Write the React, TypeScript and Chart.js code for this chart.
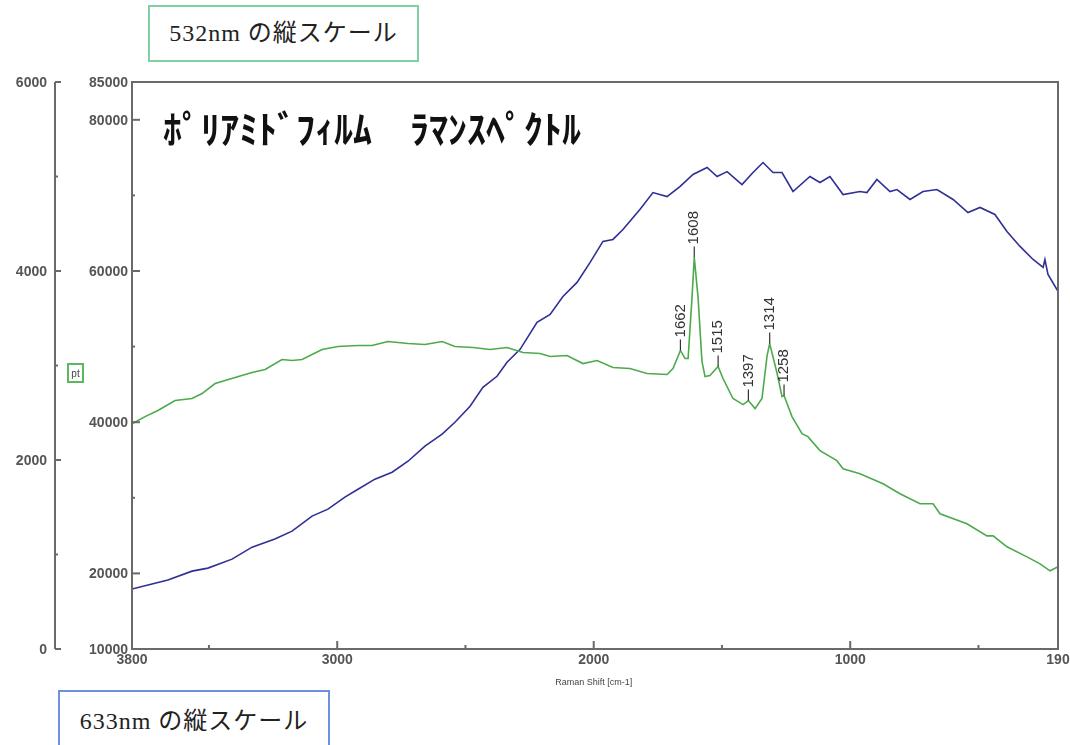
import React, { useEffect, useRef } from "react";
import { Chart, registerables } from "chart.js";

Chart.register(...registerables);

// ---- data (Raman shift in cm-1, intensity in counts) ----
const greenShift = [3800,3749,3699,3632,3566,3527,3476,3398,3332,3281,3215,3176,3137,3059,2997,2919,2864,2802,2724,2658,2591,2541,2471,2404,2338,2276,2209,2170,2104,2042,1987,1925,1859,1792,1714,1691,1662,1644,1632,1617,1608,1593,1578,1566,1547,1515,1496,1457,1418,1397,1371,1344,1324,1314,1285,1266,1258,1227,1188,1165,1118,1052,1028,962,872,806,728,677,650,545,467,443,389,311,260,221,190];
const greenIntensity = [39800,40740,41540,42860,43130,43790,45110,45910,46570,46970,48290,48160,48290,49620,50020,50150,50150,50680,50410,50280,50680,50020,49880,49620,49880,49220,49090,48690,48820,47760,48160,47230,47100,46440,46310,47100,49490,48430,48430,56380,61800,56380,48030,46040,46170,47370,45780,43130,42330,42860,41800,43130,48820,50410,46440,43390,43520,40740,38490,38090,36240,34910,33850,33190,31860,30540,29210,29210,27890,26560,24970,24970,23520,22190,21260,20340,20870];

const blueShift = [3800,3722,3660,3566,3504,3410,3332,3243,3176,3098,3036,2970,2919,2853,2786,2724,2658,2591,2541,2482,2432,2377,2338,2287,2221,2170,2120,2065,2014,1964,1925,1886,1820,1769,1714,1664,1613,1558,1519,1480,1422,1379,1340,1301,1266,1223,1157,1118,1079,1028,962,935,896,845,818,767,716,662,599,541,494,436,389,338,287,248,241,229,190];
const blueIntensity = [634,687,729,824,856,951,1078,1163,1247,1406,1480,1607,1691,1797,1871,1987,2146,2273,2399,2569,2769,2886,3034,3171,3456,3541,3731,3879,4091,4313,4334,4439,4651,4830,4788,4894,5021,5095,5000,5052,4915,5042,5148,5042,5042,4841,5000,4936,5000,4809,4841,4830,4968,4841,4862,4757,4841,4862,4757,4619,4672,4598,4418,4260,4122,4038,4122,3964,3784];

const peakLabels = [1662, 1608, 1515, 1397, 1314, 1258];

const xMajorTicks = [3800, 3000, 2000, 1000, 190];
const xMinorTicks = [3500, 2500, 1500, 500];
const innerMajorTicks = [85000, 80000, 60000, 40000, 20000, 10000];
const innerMinorTicks = [70000, 50000, 30000];
const outerMajorTicks = [6000, 4000, 2000, 0];
const outerMinorTicks = [5000, 3000, 1000];

const chartTitle = "ﾎﾟﾘｱﾐﾄﾞﾌｨﾙﾑ　ﾗﾏﾝｽﾍﾟｸﾄﾙ";
const xAxisTitle = "Raman Shift [cm-1]";
const box532 = "532nm の縦スケール";
const box633 = "633nm の縦スケール";

const decorPlugin = {
  id: "decor",
  afterDraw(chart: any) {
    const { ctx, chartArea: ca, scales } = chart;
    const xs = scales.x;
    const yi = scales.y;
    const yo = scales.yL;
    ctx.save();

    // frame
    ctx.strokeStyle = "#6a6a6a";
    ctx.lineWidth = 2;
    ctx.strokeRect(ca.left, ca.top, ca.right - ca.left, ca.bottom - ca.top);

    const tickFont = "bold 14px 'Liberation Sans', Arial, sans-serif";
    ctx.fillStyle = "#555";
    ctx.font = tickFont;

    // inner y axis
    ctx.textAlign = "right";
    ctx.textBaseline = "middle";
    innerMajorTicks.forEach((v) => {
      const py = yi.getPixelForValue(v);
      ctx.beginPath();
      ctx.moveTo(ca.left, py);
      ctx.lineTo(ca.left + 8, py);
      ctx.stroke();
      ctx.fillText(String(v), ca.left - 4, py + 1);
    });
    innerMinorTicks.forEach((v) => {
      const py = yi.getPixelForValue(v);
      ctx.beginPath();
      ctx.moveTo(ca.left, py);
      ctx.lineTo(ca.left + 3, py);
      ctx.stroke();
    });

    // outer y axis
    const ox = 55;
    ctx.beginPath();
    ctx.moveTo(ox, yo.getPixelForValue(6000));
    ctx.lineTo(ox, yo.getPixelForValue(0));
    ctx.stroke();
    outerMajorTicks.forEach((v) => {
      const py = yo.getPixelForValue(v);
      ctx.beginPath();
      ctx.moveTo(ox, py);
      ctx.lineTo(ox + 6, py);
      ctx.stroke();
      ctx.fillText(String(v), ox - 8, py + 1);
    });
    outerMinorTicks.forEach((v) => {
      const py = yo.getPixelForValue(v);
      ctx.beginPath();
      ctx.moveTo(ox, py);
      ctx.lineTo(ox + 3, py);
      ctx.stroke();
    });

    // x axis
    ctx.textAlign = "center";
    ctx.textBaseline = "middle";
    xMajorTicks.forEach((v) => {
      const px = xs.getPixelForValue(v);
      ctx.beginPath();
      ctx.moveTo(px, ca.bottom);
      ctx.lineTo(px, ca.bottom - 8);
      ctx.stroke();
      ctx.fillText(String(v), px, ca.bottom + 11);
    });
    xMinorTicks.forEach((v) => {
      const px = xs.getPixelForValue(v);
      ctx.beginPath();
      ctx.moveTo(px, ca.bottom);
      ctx.lineTo(px, ca.bottom - 4);
      ctx.stroke();
    });
    ctx.font = "9px 'Liberation Sans', Arial, sans-serif";
    ctx.fillStyle = "#444";
    ctx.fillText(xAxisTitle, xs.getPixelForValue(2000), ca.bottom + 34);

    // peak labels
    ctx.strokeStyle = "#333";
    ctx.fillStyle = "#333";
    ctx.lineWidth = 1.2;
    ctx.font = "15px 'Liberation Sans', Arial, sans-serif";
    peakLabels.forEach((p) => {
      const idx = greenShift.indexOf(p);
      if (idx < 0) return;
      const px = xs.getPixelForValue(p);
      const py = yi.getPixelForValue(greenIntensity[idx]);
      ctx.beginPath();
      ctx.moveTo(px, py);
      ctx.lineTo(px, py - 11);
      ctx.stroke();
      ctx.save();
      ctx.translate(px, py - 13);
      ctx.rotate(-Math.PI / 2);
      ctx.textAlign = "left";
      ctx.textBaseline = "middle";
      ctx.fillText(String(p), 0, 0);
      ctx.restore();
    });

    // title
    ctx.fillStyle = "#111";
    ctx.font = "bold 38px 'Noto Sans CJK JP', sans-serif";
    ctx.textAlign = "left";
    ctx.textBaseline = "middle";
    ctx.fillText(chartTitle, 163, 129);

    ctx.restore();
  },
};

export default function App() {
  const canvasRef = useRef<HTMLCanvasElement | null>(null);

  useEffect(() => {
    if (!canvasRef.current) return;
    const chart = new Chart(canvasRef.current, {
      type: "line",
      data: {
        datasets: [
          {
            label: "green",
            data: greenShift.map((s, i) => ({ x: s, y: greenIntensity[i] })),
            borderColor: "#4caa4c",
            borderWidth: 1.6,
            pointRadius: 0,
            tension: 0,
            yAxisID: "y",
          },
          {
            label: "blue",
            data: blueShift.map((s, i) => ({ x: s, y: blueIntensity[i] })),
            borderColor: "#2f2f96",
            borderWidth: 1.6,
            pointRadius: 0,
            tension: 0,
            yAxisID: "yL",
          },
        ],
      },
      options: {
        responsive: false,
        animation: false,
        devicePixelRatio: 1,
        layout: { padding: { left: 132, right: 12, top: 82, bottom: 96 } },
        plugins: { legend: { display: false }, tooltip: { enabled: false } },
        scales: {
          x: { type: "linear", min: 190, max: 3800, reverse: true, display: false },
          y: { type: "linear", min: 10000, max: 85000, display: false },
          yL: { type: "linear", min: 0, max: 6000, display: false },
        },
      },
      plugins: [decorPlugin],
    });
    return () => chart.destroy();
  }, []);

  const boxText: React.CSSProperties = {
    fontFamily: "'Liberation Serif', 'Noto Sans CJK JP', serif",
    fontSize: 24,
    letterSpacing: 1,
    color: "#222",
    whiteSpace: "nowrap",
  };

  return (
    <div
      style={{
        position: "absolute",
        left: 0,
        top: 0,
        width: 1070,
        height: 745,
        overflow: "hidden",
        background: "#fff",
      }}
    >
      <canvas ref={canvasRef} width={1070} height={745} style={{ position: "absolute", left: 0, top: 0 }} />
      <div
        style={{
          position: "absolute",
          left: 148,
          top: 5,
          width: 271,
          height: 57,
          boxSizing: "border-box",
          border: "2px solid #7fd0a2",
          display: "flex",
          alignItems: "center",
          justifyContent: "center",
          paddingBottom: 6,
          background: "#fff",
        }}
      >
        <span style={boxText}>{box532}</span>
      </div>
      <div
        style={{
          position: "absolute",
          left: 58,
          top: 690,
          width: 272,
          height: 62,
          boxSizing: "border-box",
          border: "2px solid #6f8fe0",
          display: "flex",
          alignItems: "flex-start",
          justifyContent: "center",
          paddingTop: 9,
          background: "#fff",
        }}
      >
        <span style={boxText}>{box633}</span>
      </div>
      <div
        style={{
          position: "absolute",
          left: 67,
          top: 363,
          width: 17,
          height: 20,
          boxSizing: "border-box",
          border: "2px solid #5cb85c",
          fontFamily: "'Liberation Sans', Arial, sans-serif",
          fontSize: 10,
          color: "#444",
          display: "flex",
          alignItems: "center",
          justifyContent: "center",
        }}
      >
        pt
      </div>
    </div>
  );
}
